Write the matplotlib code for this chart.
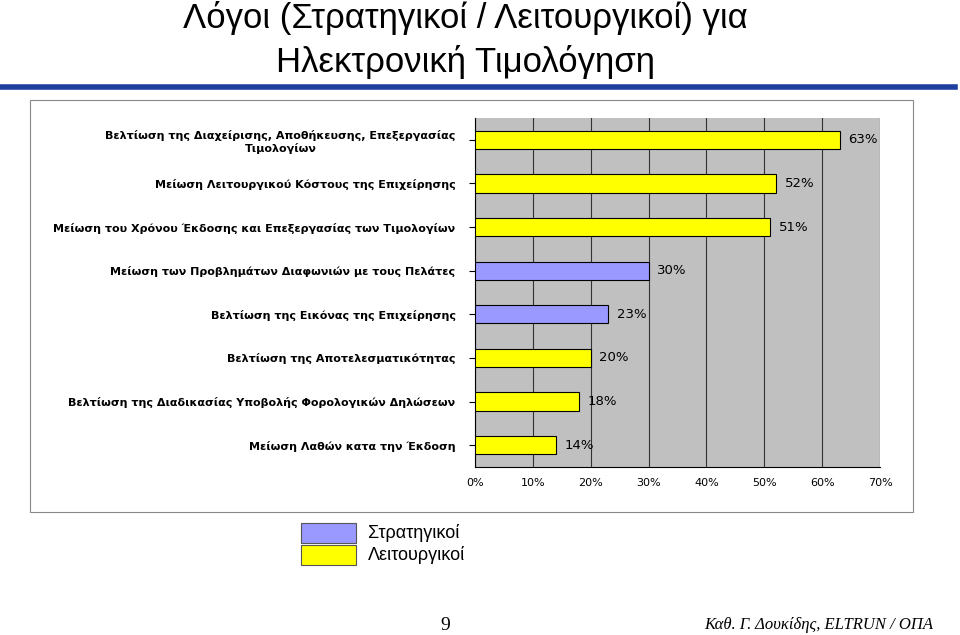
import matplotlib.pyplot as plt
from matplotlib.patches import Rectangle

labels = [
    "Βελτίωση της Διαχείρισης, Αποθήκευσης, Επεξεργασίας\nΤιμολογίων",
    "Μείωση Λειτουργικού Κόστους της Επιχείρησης",
    "Μείωση του Χρόνου Έκδοσης και Επεξεργασίας των Τιμολογίων",
    "Μείωση των Προβλημάτων Διαφωνιών με τους Πελάτες",
    "Βελτίωση της Εικόνας της Επιχείρησης",
    "Βελτίωση της Αποτελεσματικότητας",
    "Βελτίωση της Διαδικασίας Υποβολής Φορολογικών Δηλώσεων",
    "Μείωση Λαθών κατα την Έκδοση",
]
values = [63, 52, 51, 30, 23, 20, 18, 14]
kinds = ["L", "L", "L", "S", "S", "L", "L", "L"]
xticks = [0, 10, 20, 30, 40, 50, 60, 70]

colors = {"S": "#9999FF", "L": "#FFFF00"}
W, H = 960, 635
fig = plt.figure(figsize=(9.6, 6.35), dpi=100)

# title
fig.text(0.485, 1 - 18 / H, "Λόγοι (Στρατηγικοί / Λειτουργικοί) για", ha="center", va="center",
         fontsize=25, family="Liberation Sans")
fig.text(0.485, 1 - 62 / H, "Ηλεκτρονική Τιμολόγηση", ha="center", va="center",
         fontsize=25, family="Liberation Sans")
fig.add_artist(plt.Line2D([0, 0.995], [1 - 87 / H] * 2, color="#1f3f9f", lw=4))

# chart frame
fig.add_artist(Rectangle((30 / W, 1 - 512 / H), 883 / W, 412 / H, transform=fig.transFigure,
                         fill=False, ec="#888888", lw=0.8))

ax = fig.add_axes([475 / W, 1 - 467 / H, 405 / W, 349 / H])
ax.set_facecolor("#C0C0C0")
y = list(range(len(values)))[::-1]
ax.barh(y, values, height=0.42, color=[colors[k] for k in kinds], edgecolor="black", lw=0.8, zorder=3)
for yi, v in zip(y, values):
    ax.text(v + 1.5, yi, f"{v}%", va="center", ha="left", fontsize=9.5, family="DejaVu Sans", zorder=4)
ax.set_xlim(0, 70)
ax.set_ylim(-0.5, len(values) - 0.5)
ax.set_xticks(xticks)
ax.set_xticklabels([f"{t}%" for t in xticks], fontsize=8)
ax.set_yticks(y)
ax.set_yticklabels(labels, fontsize=8, fontweight="bold", multialignment="center")
ax.tick_params(axis="y", length=4, pad=10)
ax.tick_params(axis="x", length=0, pad=8)
ax.grid(axis="x", color="#333333", lw=0.8, zorder=0)
for s in ["top", "right"]:
    ax.spines[s].set_visible(False)

# legend
for i, (k, name) in enumerate([("S", "Στρατηγικοί"), ("L", "Λειτουργικοί")]):
    top = 523 + i * 22
    fig.add_artist(Rectangle((301 / W, 1 - (top + 20) / H), 55 / W, 20 / H,
                             transform=fig.transFigure, fc=colors[k], ec="#555555", lw=0.8))
    fig.text(368 / W, 1 - (top + 10) / H, name, va="center", fontsize=13, family="Liberation Sans")

# footer
fig.text(445 / W, 1 - 625 / H, "9", ha="center", va="center", fontsize=14, family="Liberation Serif")
fig.text(933 / W, 1 - 625 / H, "Καθ. Γ. Δουκίδης, ELTRUN / ΟΠΑ", ha="right", va="center",
         fontsize=12, style="italic", family="Liberation Serif")

fig.savefig("out.png", dpi=100)
